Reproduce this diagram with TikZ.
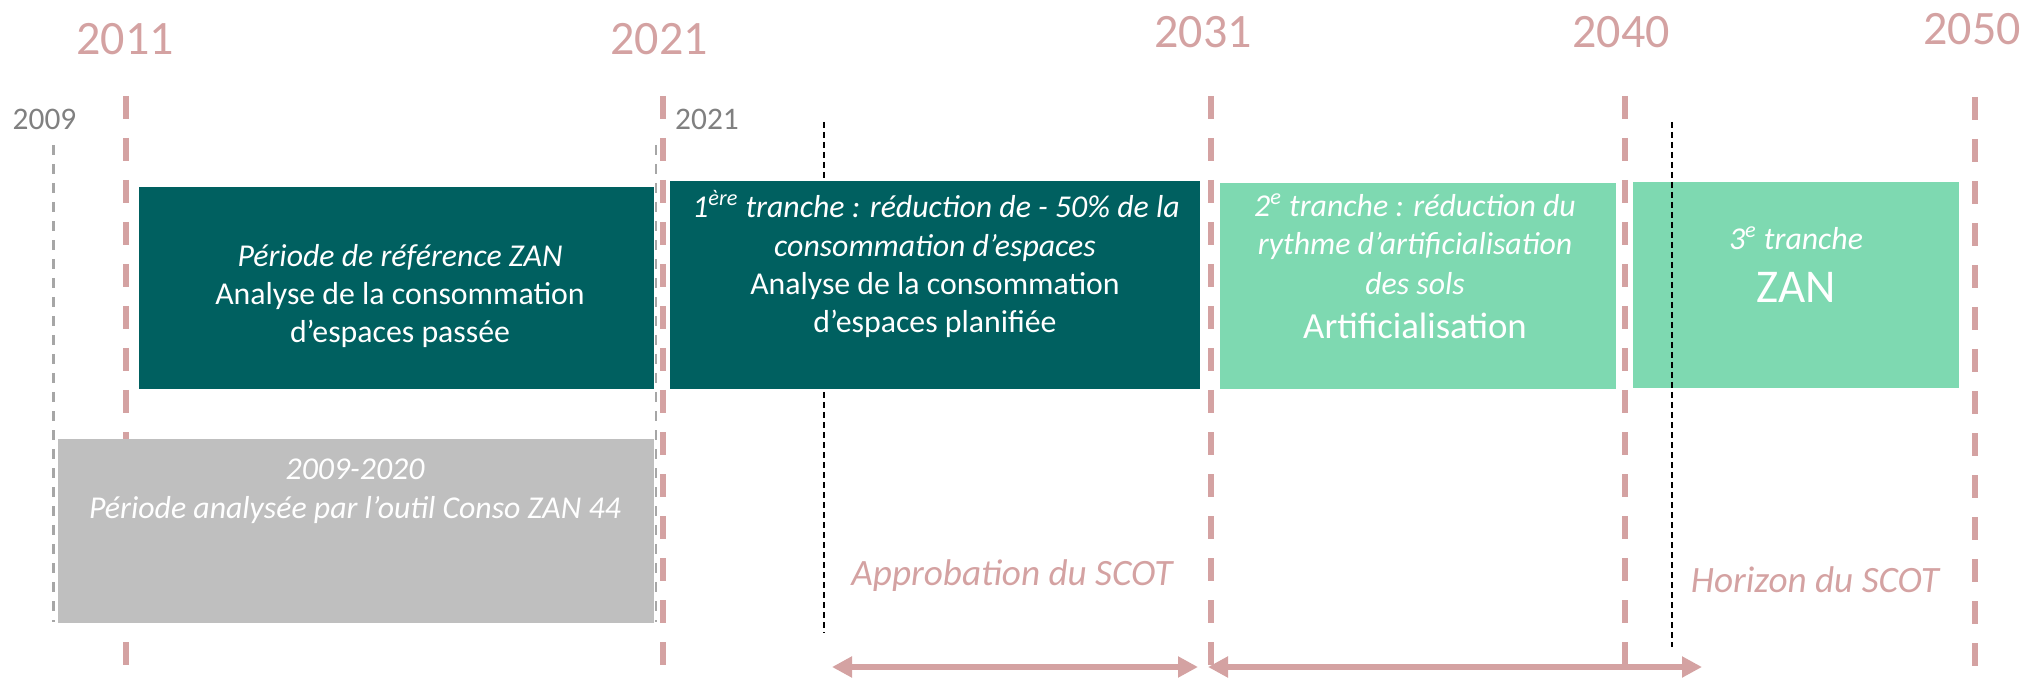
\documentclass[tikz,border=0pt]{standalone}
\usepackage{fontspec}
\setmainfont{Carlito}
\usetikzlibrary{arrows.meta}
\definecolor{pinkc}{RGB}{212,162,162}
\definecolor{tealc}{RGB}{0,96,96}
\definecolor{greenc}{RGB}{126,217,177}
\definecolor{boxgray}{RGB}{191,191,191}
\definecolor{txtgray}{RGB}{128,128,128}
\definecolor{linegray}{RGB}{166,166,166}
\begin{document}
\begin{tikzpicture}[x=0.5pt,y=-0.5pt,
  bigyear/.style={text=pinkc, font=\fontsize{24}{28}\selectfont, anchor=base, inner sep=0pt},
  smallyear/.style={text=txtgray, font=\fontsize{15.7}{18}\selectfont, anchor=base, inner sep=0pt},
  yearline/.style={draw=pinkc, line width=2.75pt, dash pattern=on 11.5pt off 9.5pt},
  grayline/.style={draw=linegray, line width=1.4pt, dash pattern=on 5pt off 4.5pt},
  blackline/.style={draw=black, line width=0.9pt, dash pattern=on 3pt off 2pt},
  periodbox/.style={draw=none, inner sep=0pt, outer sep=0pt},
  boxtext/.style={text=white, font=\fontsize{15.9}{19}\selectfont, anchor=base, inner sep=0pt},
  boxtextit/.style={boxtext, font=\fontsize{15.9}{19}\selectfont\itshape},
  scotlabel/.style={text=pinkc, font=\fontsize{18.6}{22}\selectfont\itshape, anchor=base, inner sep=0pt},
  spanarrow/.style={draw=pinkc, line width=3pt, {Triangle[length=10pt,width=10pt]}-{Triangle[length=10pt,width=10pt]}}
]
\useasboundingbox (0,0) rectangle (2025,679);
% year labels
\node[bigyear] (y2011) at (125,55) {2011};
\node[bigyear] (y2021) at (659,55) {2021};
\node[bigyear] (y2031) at (1203,48) {2031};
\node[bigyear] (y2040) at (1621,48) {2040};
\node[bigyear] (y2050) at (1972,45) {2050};
\node[smallyear] (s2009) at (44.5,130) {2009};
\node[smallyear] (s2021) at (707,130) {2021};
% year lines
\coordinate (l2011t) at (126,96);  \coordinate (l2011b) at (126,679);
\coordinate (l2021t) at (663,96);  \coordinate (l2021b) at (663,679);
\coordinate (l2031t) at (1211,96); \coordinate (l2031b) at (1211,679);
\coordinate (l2040t) at (1625,96); \coordinate (l2040b) at (1625,679);
\coordinate (l2050t) at (1975,97); \coordinate (l2050b) at (1975,679);
\draw[yearline] (l2011t) -- (l2011b);
\draw[yearline] (l2021t) -- (l2021b);
\draw[yearline] (l2031t) -- (l2031b);
\draw[yearline] (l2040t) -- (l2040b);
\draw[yearline] (l2050t) -- (l2050b);
% gray dashed lines
\coordinate (g1t) at (53.6,145); \coordinate (g1b) at (53.6,622);
\coordinate (g2t) at (656,145);  \coordinate (g2b) at (656,622);
\draw[grayline] (g1t) -- (g1b);
\draw[grayline] (g2t) -- (g2b);
% black dashed line 1 (behind box 2)
\coordinate (k1t) at (824,122); \coordinate (k1b) at (824,633);
\draw[blackline] (k1t) -- (k1b);
% boxes
\node[periodbox, fill=tealc, minimum width=257.5pt, minimum height=101pt] (b1) at (396.5,288) {};
\node[periodbox, fill=tealc, minimum width=265pt, minimum height=104pt] (b2) at (935,285) {};
\node[periodbox, fill=greenc, minimum width=198pt, minimum height=103pt] (b3) at (1418,286) {};
\node[periodbox, fill=greenc, minimum width=163pt, minimum height=103pt] (b4) at (1796,285) {};
\node[periodbox, fill=boxgray, minimum width=298pt, minimum height=92pt] (bg) at (356,531) {};
% black dashed line 2 (over box 4)
\coordinate (k2t) at (1672,122); \coordinate (k2b) at (1672,647);
\draw[blackline] (k2t) -- (k2b);
% box 1 text
\node[boxtextit] (t1a) at (400,267) {Période de référence ZAN};
\node[boxtext] (t1b) at (400,305) {Analyse de la consommation};
\node[boxtext] (t1c) at (400,343) {d’espaces passée};
% box 2 text
\node[boxtextit] (t2a) at (936,218) {1\textsuperscript{ère} tranche : réduction de - 50\% de la};
\node[boxtextit] (t2b) at (935,257) {consommation d’espaces};
\node[boxtext] (t2c) at (935,295) {Analyse de la consommation};
\node[boxtext] (t2d) at (935,333) {d’espaces planifiée};
% box 3 text
\node[boxtextit] (t3a) at (1415,217) {2\textsuperscript{e} tranche : réduction du};
\node[boxtextit] (t3b) at (1415,255) {rythme d’artificialisation};
\node[boxtextit] (t3c) at (1415,295) {des sols};
\node[boxtext, font=\fontsize{18.4}{22}\selectfont] (t3d) at (1415,339) {Artificialisation};
% box 4 text
\node[boxtextit] (t4a) at (1796,250) {3\textsuperscript{e} tranche};
\node[boxtext, font=\fontsize{23.5}{27}\selectfont] (t4b) at (1796,303) {ZAN};
% gray box text
\node[boxtextit] (tga) at (355,480) {2009-2020};
\node[boxtextit] (tgb) at (355,518) {Période analysée par l’outil Conso ZAN 44};
% SCOT labels
\node[scotlabel] (appr) at (1012,585) {Approbation du SCOT};
\node[scotlabel] (hori) at (1815,592) {Horizon du SCOT};
% arrows
\coordinate (a1l) at (832,667); \coordinate (a1r) at (1198,667);
\coordinate (a2l) at (1208,667); \coordinate (a2r) at (1702,667);
\draw[spanarrow] (a1l) -- (a1r);
\draw[spanarrow] (a2l) -- (a2r);
\end{tikzpicture}
\end{document}
